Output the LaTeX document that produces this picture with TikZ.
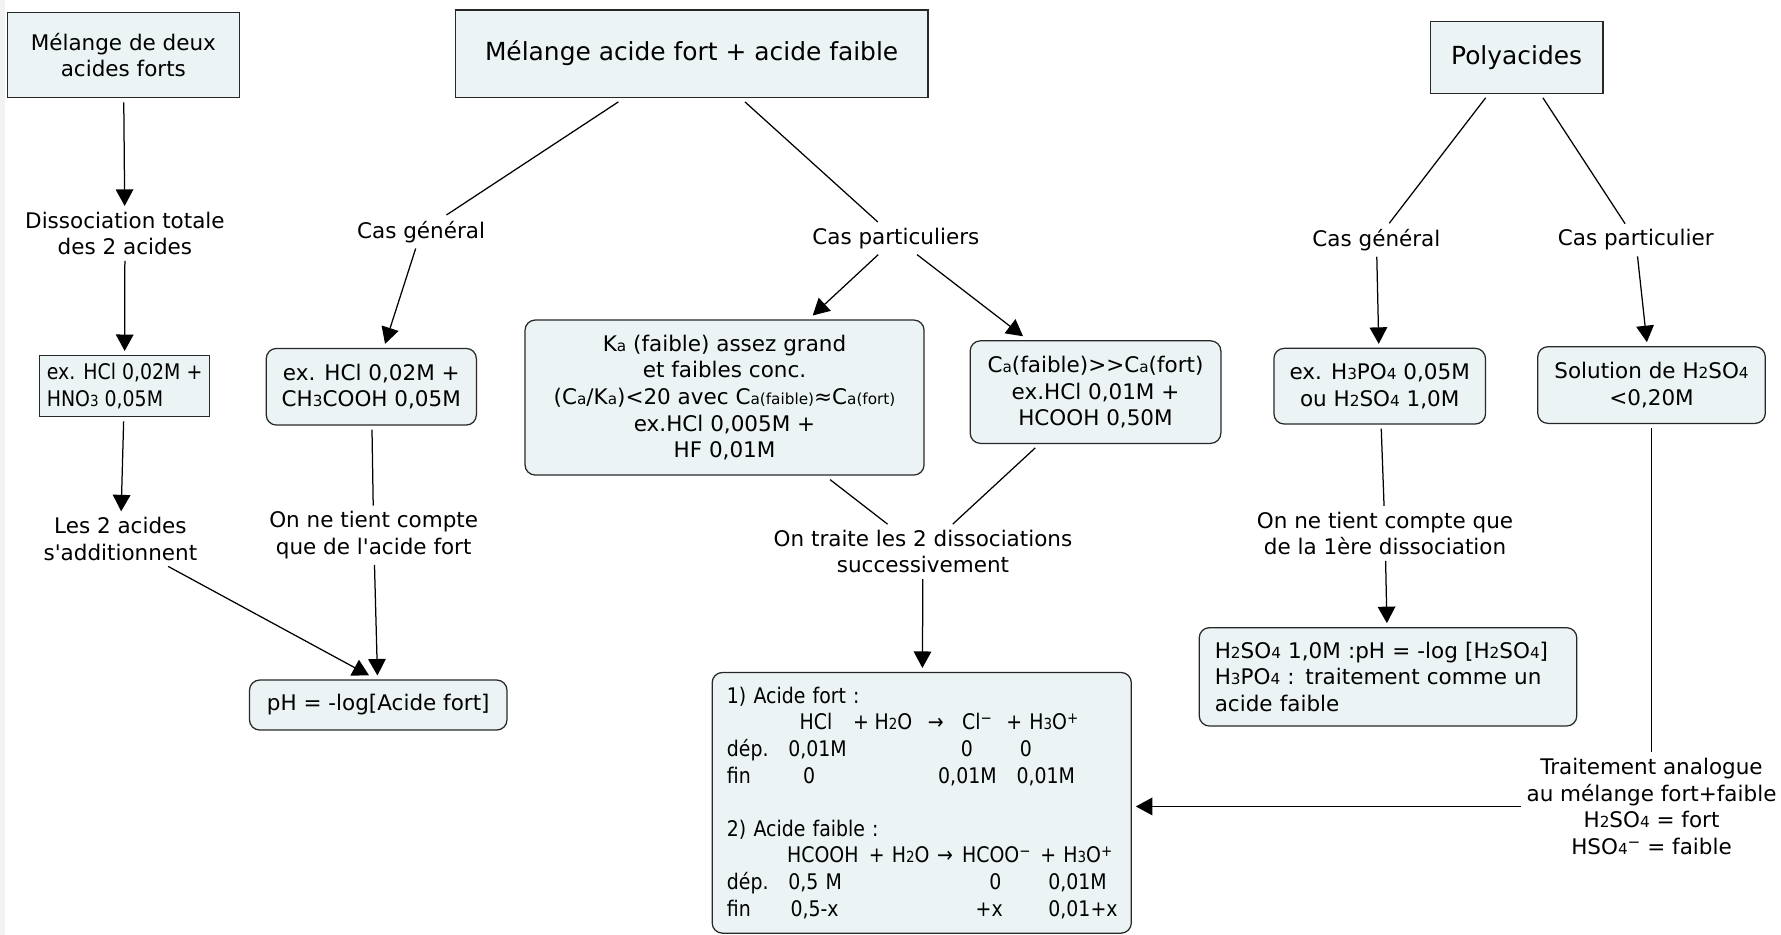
\documentclass[tikz,border=0pt]{standalone}
\usepackage{fontspec}
\setmainfont{DejaVu Sans}
\newfontfamily\cond[FakeStretch=0.88]{DejaVu Sans}
\usetikzlibrary{arrows.meta}
\definecolor{boxfill}{RGB}{235,243,245}
\definecolor{boxline}{RGB}{40,40,40}
\newcommand\fsn{\fontsize{19}{23.5}\selectfont}
\newcommand\fst{\fontsize{22}{26}\selectfont}
\newcommand\fsc{\cond\fontsize{19}{23.5}\selectfont}
\newcommand\dn[1]{{\fontsize{13.5}{13.5}\selectfont #1}}
\newcommand\up[1]{\raisebox{0.3em}{\fontsize{13.5}{13.5}\selectfont #1}}
\newcommand\cl[2]{\makebox[0pt][l]{\hspace*{#1bp}#2}}
\tikzset{
 box/.style={draw=boxline, fill=boxfill, line width=1.1bp, inner sep=0pt, outer sep=4bp, align=center, font=\fsn},
 rbox/.style={box, rounded corners=9bp},
 lbl/.style={inner sep=5bp, align=center, font=\fsn},
 conn/.style={line width=1.1bp, draw=black},
 arr/.style={conn, -{Triangle[length=14.5bp,width=15.5bp]}},
}
\begin{document}
\begin{tikzpicture}[x=1bp,y=-1bp]
\useasboundingbox (0,0) rectangle (1568,823);
\fill[black!5] (0,0) rectangle (4.5,823);

\node[box, minimum width=204bp, minimum height=75bp] (b1) at (108.6,48.6) {Mélange de deux\\acides forts};
\node[box, font=\fst, minimum width=416bp, minimum height=77bp] (b2) at (608.9,47.2) {Mélange acide fort + acide faible};
\node[box, font=\fst, minimum width=152bp, minimum height=63bp] (b3) at (1335.2,50.6) {Polyacides};

\node[lbl] (diss) at (110,205.5) {Dissociation totale\\des 2 acides};
\node[box, font=\fsc, align=left, minimum width=150bp, minimum height=54bp] (ex1) at (109.7,340) {ex. HCl 0,02M +\\HNO\dn{3} 0,05M};
\node[lbl] (add) at (106,474.4) {Les 2 acides\\s\textquotesingle additionnent};
\node[lbl] (cg1) at (370.7,204) {Cas général};
\node[rbox, minimum width=185bp, minimum height=67.5bp] (ex2) at (326.9,340.5) {ex. HCl 0,02M +\\CH\dn{3}COOH 0,05M};
\node[lbl] (onf) at (329,471.2) {On ne tient compte\\que de l\textquotesingle acide fort};
\node[rbox, minimum width=226.7bp, minimum height=44bp] (ph) at (333,620.7) {pH = -log[Acide fort]};
\node[lbl] (cp1) at (788.7,209.8) {Cas particuliers};
\node[rbox, minimum width=351.3bp, minimum height=136.5bp] (ka) at (637.9,350) {K\dn{a} (faible) assez grand\\et faibles conc.\\(C\dn{a}/K\dn{a})<20 avec C\dn{a(faible)}≈C\dn{a(fort)}\\ex.HCl 0,005M +\\HF 0,01M};
\node[rbox, minimum width=220.7bp, minimum height=90.3bp] (ca) at (964.5,345.2) {C\dn{a}(faible)\mbox{>}\mbox{>}C\dn{a}(fort)\\ex.HCl 0,01M +\\HCOOH 0,50M};
\node[lbl] (otr) at (812.6,485.7) {On traite les 2 dissociations\\successivement};
\node[rbox, font=\fsc, align=left, text width=343bp, inner xsep=13bp, minimum width=369bp, minimum height=229.5bp] (big) at (811.5,706.8) {%
\cl{0}{1) Acide fort :}\\
\cl{64}{HCl}\cl{111}{+}\cl{130}{H\dn{2}O}\cl{177}{→}\cl{207}{Cl\up{−}}\cl{246}{+ H\dn{3}O\up{+}}\\
\cl{0}{dép.}\cl{54}{0,01M}\cl{206}{0}\cl{258}{0}\\
\cl{0}{fin}\cl{67}{0}\cl{186}{0,01M}\cl{255}{0,01M}\\
\mbox{}\\
\cl{0}{2) Acide faible :}\\
\cl{53}{HCOOH}\cl{125}{+ H\dn{2}O}\cl{185}{→}\cl{207}{HCOO\up{−}}\cl{276}{+ H\dn{3}O\up{+}}\\
\cl{0}{dép.}\cl{54}{0,5 M}\cl{231}{0}\cl{283}{0,01M}\\
\cl{0}{fin}\cl{56}{0,5-x}\cl{219}{+x}\cl{283}{0,01+x}};
\node[lbl] (cg2) at (1211.8,211.3) {Cas général};
\node[lbl] (cp2) at (1440.1,211.3) {Cas particulier};
\node[rbox, minimum width=186.3bp, minimum height=66.6bp] (ex3) at (1214.7,340) {ex. H\dn{3}PO\dn{4} 0,05M\\ou H\dn{2}SO\dn{4} 1,0M};
\node[rbox, minimum width=200.4bp, minimum height=67.5bp] (sol) at (1454,339) {Solution de H\dn{2}SO\dn{4}\\<0,20M};
\node[lbl] (onq) at (1219.4,469.6) {On ne tient compte que\\de la 1ère dissociation};
\node[rbox, align=left, text width=305bp, inner xsep=13.5bp, minimum width=332.4bp, minimum height=86.6bp] (h2) at (1222,595.9) {H\dn{2}SO\dn{4} 1,0M :pH = -log [H\dn{2}SO\dn{4}]\\H\dn{3}PO\dn{4} : traitement comme un\\acide faible};
\node[lbl] (tra) at (1454,710) {Traitement analogue\\au mélange fort+faible\\H\dn{2}SO\dn{4} = fort\\HSO\dn{4}\up{−} = faible};

\draw[arr] (b1) -- (diss);
\draw[arr] (diss) -- (ex1);
\draw[arr] (ex1) -- (add);
\draw[arr] ([xshift=42bp]add.south) -- ([xshift=-8bp]ph.north);
\draw[conn] (b2) -- (cg1);
\draw[arr] (cg1) -- (ex2);
\draw[conn] (ex2) -- (onf);
\draw[arr] (onf) -- (ph);
\draw[conn] (b2) -- (cp1);
\draw[arr] (cp1) -- (ka);
\draw[arr] (cp1) -- (ca);
\draw[conn] (ka) -- (otr);
\draw[conn] (ca) -- (otr);
\draw[arr] (otr) -- (big);
\draw[conn] (b3) -- (cg2);
\draw[conn] (b3) -- (cp2);
\draw[arr] (cg2) -- (ex3);
\draw[arr] (cp2) -- (sol);
\draw[conn] (ex3) -- (onq);
\draw[arr] (onq) -- (h2);
\draw[conn] (sol) -- (tra);
\draw[arr] (tra.west) -- (tra.west -| big.east);
\end{tikzpicture}
\end{document}
